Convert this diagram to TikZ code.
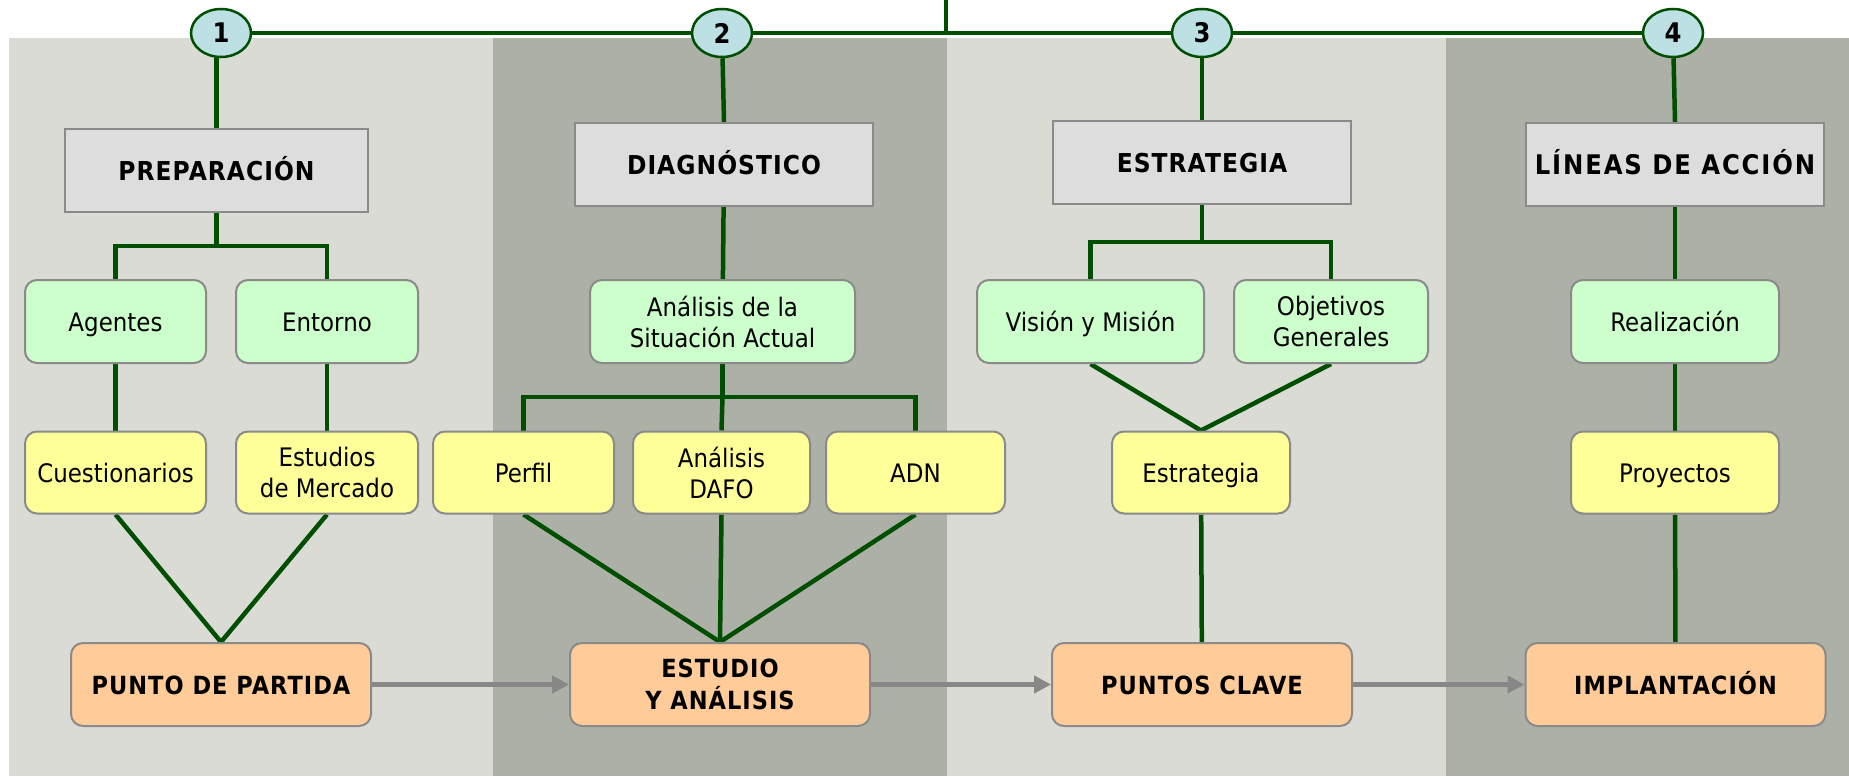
\documentclass[tikz,border=0pt]{standalone}
\usepackage{fontspec}
\setmainfont{DejaVu Sans}[FakeStretch=0.9]
\newfontfamily\tfont{DejaVu Sans}[FakeStretch=0.9,LetterSpace=4]
\newfontfamily\wfont{DejaVu Sans}[FakeStretch=0.9,LetterSpace=7]
\usetikzlibrary{arrows.meta,backgrounds,shapes.geometric}
\definecolor{panelL}{HTML}{DADBD5}
\definecolor{panelD}{HTML}{ADB0A6}
\definecolor{titlefill}{HTML}{DDDDDD}
\definecolor{bborder}{HTML}{8A8A8A}
\definecolor{greenfill}{HTML}{CCFFCC}
\definecolor{yellowfill}{HTML}{FFFF99}
\definecolor{orangefill}{HTML}{FFCC99}
\definecolor{circfill}{HTML}{BCE0E3}
\definecolor{lineg}{HTML}{004F00}
\definecolor{arrowg}{HTML}{878787}
\tikzset{
  tbox/.style={draw=bborder, line width=2pt, fill=titlefill, minimum width=#1, minimum height=83pt, inner sep=0pt, align=center, font=\tfont\bfseries\fontsize{26}{31}\selectfont},
  gbox/.style={draw=bborder, line width=2pt, fill=greenfill, rounded corners=12pt, minimum width=#1, minimum height=83pt, inner sep=0pt, align=center, font=\fontsize{25.5}{31}\selectfont},
  ybox/.style={draw=bborder, line width=2pt, fill=yellowfill, rounded corners=12pt, minimum width=#1, minimum height=82pt, inner sep=0pt, align=center, font=\fontsize{25.5}{31}\selectfont},
  obox/.style={draw=bborder, line width=2pt, fill=orangefill, rounded corners=12pt, minimum width=300pt, minimum height=83pt, inner sep=0pt, align=center, font=\tfont\bfseries\fontsize{25}{32}\selectfont},
  one/.style={text height=19pt, text depth=0pt},
  num/.style={ellipse, draw=lineg, line width=2.5pt, fill=circfill, minimum width=60pt, minimum height=48pt, inner sep=0pt, font=\bfseries\fontsize{27}{27}\selectfont},
  conn/.style={draw=lineg, line width=4.5pt},
  flow/.style={draw=arrowg, line width=5pt, -{Triangle[length=17pt,width=17pt]}},
}
\begin{document}
\begin{tikzpicture}[x=1pt,y=-1pt]
\useasboundingbox (0,0) rectangle (1849,776);
% circles
\node[num] (c1) at (221,33) {1};
\node[num] (c2) at (722,33) {2};
\node[num] (c3) at (1202,33) {3};
\node[num] (c4) at (1673,33) {4};
\coordinate (topin) at (946,0);
\coordinate (topj) at (946,33);
% column 1
\node[tbox=303pt,one] (prep) at (216.5,170.5) {PREPARACIÓN};
\node[gbox=181pt,one] (ag) at (115.5,321.5) {Agentes};
\node[gbox=182pt,one] (en) at (327,321.5) {Entorno};
\node[ybox=181pt,one] (cu) at (115.5,472.5) {Cuestionarios};
\node[ybox=182pt] (es) at (327,472.5) {Estudios\\de Mercado};
\node[obox,one] (pp) at (221,684.5) {PUNTO DE PARTIDA};
\coordinate (b1) at (216.5,246);
% column 2
\node[tbox=298pt,one] (diag) at (724,164.5) {DIAGNÓSTICO};
\node[gbox=265pt] (asa) at (722.5,321.5) {Análisis de la\\Situación Actual};
\node[ybox=181pt,one] (pe) at (523.5,472.5) {Perfil};
\node[ybox=177pt] (da) at (721.5,472.5) {Análisis\\DAFO};
\node[ybox=179pt,one] (adn) at (915.5,472.5) {ADN};
\node[obox] (ea) at (720,684.5) {ESTUDIO\\Y ANÁLISIS};
\coordinate (b2) at (722.5,397);
% column 3
\node[tbox=298pt,one] (estr) at (1202,162.5) {ESTRATEGIA};
\node[gbox=227pt,one] (vm) at (1090.5,321.5) {Visión y Misión};
\node[gbox=194pt] (og) at (1331,321.5) {Objetivos\\Generales};
\node[ybox=178pt,one] (ye) at (1201,472.5) {Estrategia};
\node[obox,one] (pc) at (1202,684.5) {PUNTOS CLAVE};
\coordinate (b3) at (1202,242);
% column 4
\node[tbox=298pt,one,font=\wfont\bfseries\fontsize{27}{31}\selectfont] (lin) at (1675,164.5) {LÍNEAS DE ACCIÓN};
\node[gbox=208pt,one] (re) at (1675,321.5) {Realización};
\node[ybox=208pt,one] (pr) at (1675,472.5) {Proyectos};
\node[obox,one] (im) at (1675.5,684.5) {IMPLANTACIÓN};
\begin{scope}[on background layer]
  \fill[panelL] (9,38) rectangle (493,776);
  \fill[panelD] (493,38) rectangle (947,776);
  \fill[panelL] (947,38) rectangle (1446,776);
  \fill[panelD] (1446,38) rectangle (1849,776);
  \draw[conn] (c1) -- (c4);
  \draw[conn] (topin) -- (topj);
  % column 1
  \draw[conn] (prep.north |- c1.south) -- (prep.north);
  \draw[conn] (prep.south) -- (b1);
  \draw[conn] (b1) -| (ag.north);
  \draw[conn] (b1) -| (en.north);
  \draw[conn] (ag) -- (cu);
  \draw[conn] (en) -- (es);
  \draw[conn] (cu.south) -- (pp.north);
  \draw[conn] (es.south) -- (pp.north);
  % column 2
  \draw[conn] (c2) -- (diag.north);
  \draw[conn] (diag) -- (asa);
  \draw[conn] (asa.south) -- (b2);
  \draw[conn] (b2) -| (pe.north);
  \draw[conn] (b2) -| (adn.north);
  \draw[conn] (b2) -- (da.north);
  \draw[conn] (pe.south) -- (ea.north);
  \draw[conn] (da.south) -- (ea.north);
  \draw[conn] (adn.south) -- (ea.north);
  % column 3
  \draw[conn] (c3) -- (estr.north);
  \draw[conn] (estr.south) -- (b3);
  \draw[conn] (b3) -| (vm.north);
  \draw[conn] (b3) -| (og.north);
  \draw[conn] (vm.south) -- (ye.north);
  \draw[conn] (og.south) -- (ye.north);
  \draw[conn] (ye) -- (pc);
  % column 4
  \draw[conn] (c4) -- (lin.north);
  \draw[conn] (lin) -- (re);
  \draw[conn] (re) -- (pr);
  \draw[conn] (pr) -- (im);
\end{scope}
\draw[flow] (pp.east) -- (ea.west);
\draw[flow] (ea.east) -- (pc.west);
\draw[flow] (pc.east) -- (im.west);
\end{tikzpicture}
\end{document}
